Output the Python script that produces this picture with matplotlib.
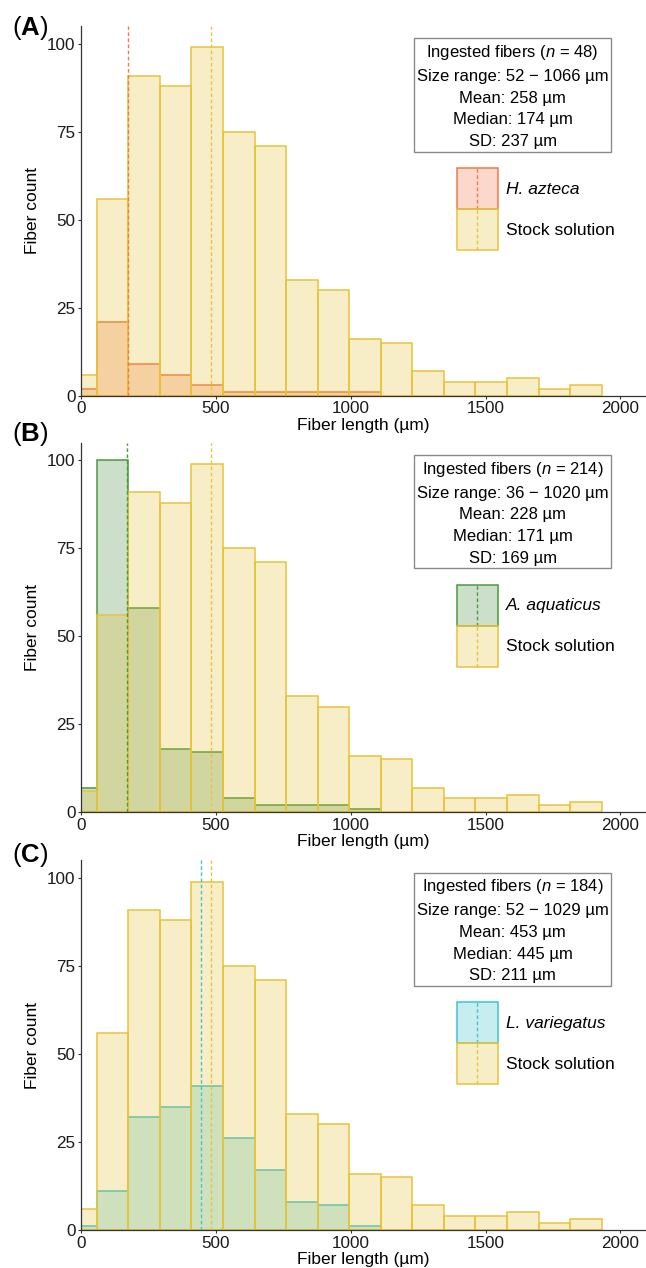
import numpy as np
import matplotlib
matplotlib.use("Agg")
import matplotlib.pyplot as plt
from matplotlib.patches import Patch, Rectangle
from matplotlib.lines import Line2D
from matplotlib.legend_handler import HandlerBase

plt.rcParams['font.family'] = ['Liberation Sans', 'DejaVu Sans']
plt.rcParams['mathtext.fontset'] = 'custom'
plt.rcParams['mathtext.rm'] = 'Liberation Sans'
plt.rcParams['mathtext.it'] = 'Liberation Sans:italic'
plt.rcParams['mathtext.bf'] = 'Liberation Sans:bold'

# histogram bins (um)
bin_edges = [0, 58.5, 175.5, 292.5, 409.5, 526.5, 643.5, 760.5, 877.5,
             994.5, 1111.5, 1228.5, 1345.5, 1462.5, 1579.5, 1696.5, 1813.5, 1930.5]

stock_counts = [6, 56, 91, 88, 99, 75, 71, 33, 30, 16, 15, 7, 4, 4, 5, 2, 3]
stock_median = 483

hazteca_counts = [2, 21, 9, 6, 3, 1, 1, 1, 1, 1]
aaquaticus_counts = [7, 100, 58, 18, 17, 4, 2, 2, 2, 1]
lvariegatus_counts = [1, 11, 32, 35, 41, 26, 17, 8, 7, 1]

letters = ['A', 'B', 'C']
species = ['H. azteca', 'A. aquaticus', 'L. variegatus']
n_fibers = [48, 214, 184]
size_min = [52, 36, 52]
size_max = [1066, 1020, 1029]
means = [258, 228, 453]
medians = [174, 171, 445]
sds = [237, 169, 211]

# stock layer sits on top with a translucent fill
stock_fill = (0.89, 0.75, 0.14, 0.25)
stock_edge = '#E8C43A'
sp_fill = [(0.97, 0.39, 0.20, 0.25), (0.20, 0.50, 0.20, 0.25), (0.14, 0.73, 0.77, 0.25)]
sp_edge = ['#F47848', '#4A9A3C', '#40C4D0']
sp_counts = [hazteca_counts, aaquaticus_counts, lvariegatus_counts]

dash = (0, (2.6, 1.8))


class DashedBox(HandlerBase):
    # legend key: filled square with dashed median line through it
    def create_artists(self, legend, orig_handle, xdescent, ydescent,
                       width, height, fontsize, trans):
        r = Rectangle((-xdescent, -ydescent), width, height,
                      facecolor=orig_handle.get_facecolor(),
                      edgecolor=orig_handle.get_edgecolor(),
                      lw=1.1, transform=trans)
        xm = -xdescent + width / 2
        ln = Line2D([xm, xm], [-ydescent, -ydescent + height],
                    color=orig_handle.get_edgecolor(), lw=1.0,
                    linestyle=dash, transform=trans)
        return [r, ln]


fig = plt.figure(figsize=(6.46, 12.68), dpi=100)
bottoms = [0.6879, 0.3594, 0.0300]
label_y = [1 - 28 / 1268, 1 - 434 / 1268, 1 - 855 / 1268]
widths = np.diff(bin_edges)

for i in range(3):
    ax = fig.add_axes([0.1254, bottoms[i], 0.8746, 0.2914])
    c = sp_counts[i]
    ax.bar(bin_edges[:len(c)], c, width=widths[:len(c)], align='edge',
           color=sp_fill[i], edgecolor=sp_edge[i], linewidth=1.1, zorder=1)
    ax.bar(bin_edges[:-1], stock_counts, width=widths, align='edge',
           color=stock_fill, edgecolor=stock_edge, linewidth=1.1, zorder=2)
    ax.axvline(stock_median, color=stock_edge, lw=1.0, linestyle=dash, zorder=3)
    ax.axvline(medians[i], color=sp_edge[i], lw=1.0, linestyle=dash, zorder=3)

    ax.set_xlim(0, 2095)
    ax.set_ylim(0, 105)
    ax.set_xticks([0, 500, 1000, 1500, 2000])
    ax.set_yticks([0, 25, 50, 75, 100])
    for s in ['top', 'right']:
        ax.spines[s].set_visible(False)
    for s in ['left', 'bottom']:
        ax.spines[s].set_color('#333333')
        ax.spines[s].set_linewidth(0.9)
    ax.tick_params(length=2.5, width=0.8, color='#333333', pad=1.5,
                   labelsize=12.3, labelcolor='#1a1a1a')
    ax.set_xlabel('Fiber length (µm)', fontsize=12.5, labelpad=1)
    ax.set_ylabel('Fiber count', fontsize=12.5, labelpad=5)

    info = ('Ingested fibers ($\\it{n}$ = %d)\n'
            'Size range: %d \u2212 %d µm\n'
            'Mean: %d µm\nMedian: %d µm\nSD: %d µm'
            % (n_fibers[i], size_min[i], size_max[i], means[i], medians[i], sds[i]))
    ax.text(0.764, 0.954, info, transform=ax.transAxes, ha='center', va='top',
            fontsize=12, linespacing=1.56,
            bbox=dict(boxstyle='square,pad=0.17', fc='white', ec='#8a8a8a', lw=1.0))

    handles = [Patch(facecolor=sp_fill[i], edgecolor=sp_edge[i]),
               Patch(facecolor=stock_fill, edgecolor=stock_edge)]
    leg = ax.legend(handles, [species[i], 'Stock solution'],
                    handler_map={Patch: DashedBox()},
                    loc='upper left', bbox_to_anchor=(0.6655, 0.616),
                    frameon=False, borderpad=0, borderaxespad=0,
                    handlelength=2.35, handleheight=3.26, labelspacing=0,
                    handletextpad=0.45, fontsize=12.5)
    leg.get_texts()[0].set_fontstyle('italic')

    fig.text(12 / 646, label_y[i], '($\\bf{%s}$)' % letters[i], fontsize=18.5,
             ha='left', va='center')

fig.savefig('out.png', dpi=100)
